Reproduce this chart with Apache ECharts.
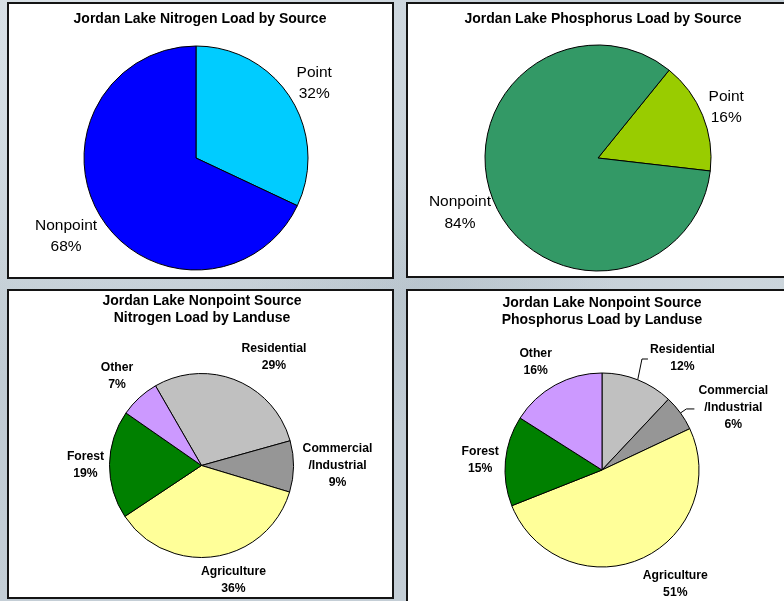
<!DOCTYPE html>
<html>
<head>
<meta charset="utf-8">
<script src="https://cdn.jsdelivr.net/npm/echarts@6/dist/echarts.min.js"></script>
<style>
  html, body { margin: 0; padding: 0; }
  #chart {
    width: 784px; height: 601px;
    background:
      radial-gradient(ellipse at 15% 5%, rgba(232,238,242,0.7), rgba(232,238,242,0) 45%),
      radial-gradient(ellipse at 55% 50%, rgba(170,184,194,0.35), rgba(170,184,194,0) 30%),
      radial-gradient(ellipse at 95% 48%, rgba(214,222,228,0.6), rgba(214,222,228,0) 35%),
      linear-gradient(180deg, #c6d0d8 0%, #bfcad2 50%, #c4ced6 100%);
  }
</style>
</head>
<body>
<div id="chart"></div>
<script>
// Jordan Lake nitrogen load by source (percent)
const nitrogenSources = ['Point', 'Nonpoint'];
const nitrogenSourceShares = [32, 68];

// Jordan Lake phosphorus load by source (percent)
const phosphorusSources = ['Point', 'Nonpoint'];
const phosphorusSourceShares = [16, 84];

// Nonpoint source nitrogen load by land use (percent)
const nitrogenLanduses = ['Residential', 'Commercial\n/Industrial', 'Agriculture', 'Forest', 'Other'];
const nitrogenLanduseShares = [29, 9, 36, 19, 7];

// Nonpoint source phosphorus load by land use (percent)
const phosphorusLanduses = ['Residential', 'Commercial\n/Industrial', 'Agriculture', 'Forest', 'Other'];
const phosphorusLanduseShares = [12, 6, 51, 15, 16];

const landuseColors = ['#C0C0C0', '#969696', '#FFFF99', '#008000', '#CC99FF'];

const FONT = '"Liberation Sans", Arial, Helvetica, sans-serif';

// Panel layout: frame, title, pie geometry and label placement
// (label placement = [distance from centre, angle offset from slice middle])
const panels = [
  {
    frame: [8, 3, 385, 275],
    title: 'Jordan Lake Nitrogen Load by Source', titleAt: [200, 19.5], titleLine: 18,
    names: nitrogenSources, values: nitrogenSourceShares,
    colors: ['#00CCFF', '#0000FF'],
    center: [196, 158], radius: 112, startAngle: 90,
    font: { weight: 'normal', size: 15.5, line: 21.5 },
    place: [[140, 0], [151.6, -1.4]]
  },
  {
    frame: [407, 3, 400, 274],
    title: 'Jordan Lake Phosphorus Load by Source', titleAt: [603, 19.5], titleLine: 18,
    names: phosphorusSources, values: phosphorusSourceShares,
    colors: ['#99CC00', '#339966'],
    center: [598, 158], radius: 113, startAngle: 51,
    font: { weight: 'normal', size: 15.5, line: 21.5 },
    place: [[138, -0.5], [148.6, -0.5]]
  },
  {
    frame: [8, 290, 385, 308],
    title: 'Jordan Lake Nonpoint Source\nNitrogen Load by Landuse', titleAt: [202, 309.5], titleLine: 17.6,
    names: nitrogenLanduses, values: nitrogenLanduseShares,
    colors: landuseColors,
    center: [201.5, 465.5], radius: 92, startAngle: 120,
    font: { weight: 'bold', size: 12.2, line: 17 },
    place: [[130.5, -11.5], [136, 0.6], [119.4, 7.1], [116, 0.6], [123.2, 0.7]]
  },
  {
    frame: [407, 290, 400, 400],
    title: 'Jordan Lake Nonpoint Source\nPhosphorus Load by Landuse', titleAt: [602, 311.7], titleLine: 16.7,
    names: phosphorusLanduses, values: phosphorusLanduseShares,
    colors: landuseColors,
    center: [602, 470], radius: 97, startAngle: 90,
    font: { weight: 'bold', size: 12.2, line: 17 },
    place: [[137.9, -14.1], [145.2, -10.7], [135.7, 9.3], [122.2, 0.8], [126.3, 2.9]],
    // leader lines: [gap before label, horizontal run]
    leaders: [[2, 6], [4, 8], null, null, null]
  }
];

// Middle angle (degrees, counter-clockwise from 3 o'clock) of each clockwise slice
function midAngles(values, start) {
  const total = values.reduce((a, b) => a + b, 0);
  let acc = 0;
  return values.map(v => {
    const m = start - 360 * (acc + v / 2) / total;
    acc += v;
    return m;
  });
}
panels.forEach(p => { p.mids = midAngles(p.values, p.startAngle); });

function placeLabel(params) {
  const p = panels[params.seriesIndex];
  const i = params.dataIndex;
  const mid = p.mids[i];
  const [dist, dAng] = p.place[i];
  const a = (mid + dAng) * Math.PI / 180;
  const x = p.center[0] + dist * Math.cos(a);
  const y = p.center[1] - dist * Math.sin(a);
  const out = { x: x, y: y, align: 'center', verticalAlign: 'middle' };
  const lead = p.leaders && p.leaders[i];
  if (lead) {
    const m = mid * Math.PI / 180;
    const p0 = [p.center[0] + p.radius * Math.cos(m), p.center[1] - p.radius * Math.sin(m)];
    const p2 = [x - params.labelRect.width / 2 - lead[0], y + 1];
    const p1 = [p2[0] - lead[1], p2[1]];
    out.labelLinePoints = [p0, p1, p2];
  }
  return out;
}

const graphics = [];
panels.forEach(p => {
  const [x, y, w, h] = p.frame;
  graphics.push({
    type: 'rect', z: -10,
    shape: { x: x, y: y, width: w, height: h },
    style: { fill: '#ffffff', stroke: '#141414', lineWidth: 2 }
  });
  graphics.push({
    type: 'text', z: 10,
    x: p.titleAt[0], y: p.titleAt[1],
    style: {
      text: p.title, fill: '#000000',
      font: 'bold 14px ' + FONT,
      lineHeight: p.titleLine,
      align: 'center', verticalAlign: 'middle',
      textAlign: 'center', textVerticalAlign: 'middle'
    }
  });
});

const series = panels.map(p => ({
  type: 'pie',
  center: p.center,
  radius: p.radius,
  startAngle: p.startAngle,
  clockwise: true,
  avoidLabelOverlap: false,
  silent: true,
  itemStyle: { borderColor: '#000000', borderWidth: 1 },
  label: {
    show: true,
    position: 'outside',
    color: '#000000',
    fontFamily: FONT,
    fontWeight: p.font.weight,
    fontSize: p.font.size,
    lineHeight: p.font.line,
    formatter: prm => prm.name + '\n' + prm.value + '%'
  },
  labelLine: { show: false, length: 8, length2: 6, lineStyle: { color: '#000000', width: 1 } },
  labelLayout: placeLabel,
  data: p.names.map((n, i) => ({
    name: n,
    value: p.values[i],
    itemStyle: { color: p.colors[i] },
    labelLine: { show: !!(p.leaders && p.leaders[i]), lineStyle: { color: '#000000', width: 1 } }
  }))
}));

const chart = echarts.init(document.getElementById('chart'), null, { renderer: 'canvas' });
chart.setOption({
  animation: false,
  backgroundColor: 'transparent',
  graphic: graphics,
  series: series
});
</script>
</body>
</html>
